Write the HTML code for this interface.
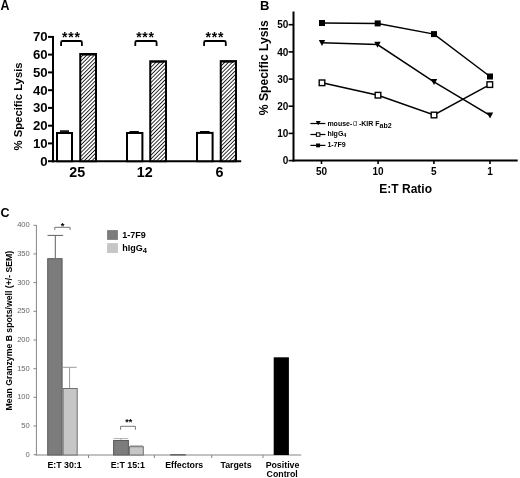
<!DOCTYPE html>
<html><head><meta charset="utf-8"><style>
html,body{margin:0;padding:0;background:#fff;}
svg{display:block;filter:grayscale(1);}
text{font-family:"Liberation Sans", sans-serif;}
</style></head><body>
<svg width="520" height="478" viewBox="0 0 520 478">
<defs>
<pattern id="hatch" patternUnits="userSpaceOnUse" width="2.7" height="2.7" patternTransform="rotate(45)">
<rect width="2.7" height="2.7" fill="#fff"/>
<rect width="0.8" height="2.7" fill="#000"/>
</pattern>
</defs>
<rect width="520" height="478" fill="#fff"/>
<text transform="translate(0.5 9.5) scale(0.9 1)" font-size="13.8" font-weight="bold">A</text>
<line x1="53" y1="36" x2="53" y2="162.2" stroke="#000" stroke-width="2"/>
<line x1="52" y1="161.2" x2="241.2" y2="161.2" stroke="#000" stroke-width="2"/>
<line x1="48" y1="161.2" x2="53" y2="161.2" stroke="#000" stroke-width="2"/>
<text x="47.6" y="165.6" font-size="13.2" font-weight="bold" text-anchor="end">0</text>
<line x1="48" y1="143.4" x2="53" y2="143.4" stroke="#000" stroke-width="2"/>
<text x="47.6" y="147.8" font-size="13.2" font-weight="bold" text-anchor="end">10</text>
<line x1="48" y1="125.7" x2="53" y2="125.7" stroke="#000" stroke-width="2"/>
<text x="47.6" y="130.1" font-size="13.2" font-weight="bold" text-anchor="end">20</text>
<line x1="48" y1="107.9" x2="53" y2="107.9" stroke="#000" stroke-width="2"/>
<text x="47.6" y="112.3" font-size="13.2" font-weight="bold" text-anchor="end">30</text>
<line x1="48" y1="90.2" x2="53" y2="90.2" stroke="#000" stroke-width="2"/>
<text x="47.6" y="94.6" font-size="13.2" font-weight="bold" text-anchor="end">40</text>
<line x1="48" y1="72.4" x2="53" y2="72.4" stroke="#000" stroke-width="2"/>
<text x="47.6" y="76.8" font-size="13.2" font-weight="bold" text-anchor="end">50</text>
<line x1="48" y1="54.6" x2="53" y2="54.6" stroke="#000" stroke-width="2"/>
<text x="47.6" y="59.0" font-size="13.2" font-weight="bold" text-anchor="end">60</text>
<line x1="48" y1="36.9" x2="53" y2="36.9" stroke="#000" stroke-width="2"/>
<text x="47.6" y="41.3" font-size="13.2" font-weight="bold" text-anchor="end">70</text>
<rect x="57.00" y="133.00" width="15.00" height="28.20" fill="#fff" stroke="#000" stroke-width="2"/>
<line x1="60.0" y1="131.1" x2="69.0" y2="131.1" stroke="#000" stroke-width="1.6"/>
<rect x="127.00" y="133.00" width="15.40" height="28.20" fill="#fff" stroke="#000" stroke-width="2"/>
<line x1="129.5" y1="131.8" x2="138.8" y2="131.8" stroke="#000" stroke-width="1.6"/>
<rect x="197.00" y="132.90" width="15.60" height="28.30" fill="#fff" stroke="#000" stroke-width="2"/>
<line x1="200.0" y1="131.8" x2="209.5" y2="131.8" stroke="#000" stroke-width="1.6"/>
<rect x="80.25" y="54.00" width="15.75" height="107.20" fill="url(#hatch)" stroke="#000" stroke-width="2"/>
<line x1="81.75" y1="55.30" x2="94.50" y2="55.30" stroke="#000" stroke-width="0.7"/>
<rect x="150.25" y="61.25" width="15.75" height="99.95" fill="url(#hatch)" stroke="#000" stroke-width="2"/>
<line x1="151.75" y1="62.55" x2="164.50" y2="62.55" stroke="#000" stroke-width="0.7"/>
<rect x="220.75" y="61.10" width="15.25" height="100.10" fill="url(#hatch)" stroke="#000" stroke-width="2"/>
<line x1="222.25" y1="62.40" x2="234.50" y2="62.40" stroke="#000" stroke-width="0.7"/>
<path d="M61.1 46 V42.5 Q61.1 41 62.6 41 H80.4 Q81.9 41 81.9 42.5 V46" fill="none" stroke="#000" stroke-width="1.8"/>
<path d="M135.3 46 V42.5 Q135.3 41 136.8 41 H155.1 Q156.6 41 156.6 42.5 V46" fill="none" stroke="#000" stroke-width="1.8"/>
<path d="M204.1 46 V42.5 Q204.1 41 205.6 41 H224.3 Q225.8 41 225.8 42.5 V46" fill="none" stroke="#000" stroke-width="1.8"/>
<text x="71.30000000000001" y="42.3" font-size="14" font-weight="bold" letter-spacing="0.8" text-anchor="middle">***</text>
<text x="145.5" y="42.3" font-size="14" font-weight="bold" letter-spacing="0.8" text-anchor="middle">***</text>
<text x="214.8" y="42.3" font-size="14" font-weight="bold" letter-spacing="0.8" text-anchor="middle">***</text>
<text x="77.3" y="177.4" font-size="14.3" font-weight="bold" text-anchor="middle">25</text>
<text x="144.8" y="177.4" font-size="14.3" font-weight="bold" text-anchor="middle">12</text>
<text x="219.6" y="177.4" font-size="14.3" font-weight="bold" text-anchor="middle">6</text>
<text transform="translate(22.2 106.45) rotate(-90)" font-size="11.3" font-weight="bold" text-anchor="middle">% Specific Lysis</text>
<text x="260" y="9.9" font-size="13" font-weight="bold">B</text>
<line x1="293.5" y1="11.5" x2="293.5" y2="161.6" stroke="#000" stroke-width="2"/>
<line x1="292.5" y1="160.6" x2="517.7" y2="160.6" stroke="#000" stroke-width="2"/>
<line x1="288.6" y1="160.6" x2="293.5" y2="160.6" stroke="#000" stroke-width="1.6"/>
<text x="288.3" y="164.2" font-size="10" font-weight="bold" text-anchor="end">0</text>
<line x1="288.6" y1="133.4" x2="293.5" y2="133.4" stroke="#000" stroke-width="1.6"/>
<text x="288.3" y="137.0" font-size="10" font-weight="bold" text-anchor="end">10</text>
<line x1="288.6" y1="106.2" x2="293.5" y2="106.2" stroke="#000" stroke-width="1.6"/>
<text x="288.3" y="109.8" font-size="10" font-weight="bold" text-anchor="end">20</text>
<line x1="288.6" y1="79.1" x2="293.5" y2="79.1" stroke="#000" stroke-width="1.6"/>
<text x="288.3" y="82.7" font-size="10" font-weight="bold" text-anchor="end">30</text>
<line x1="288.6" y1="51.9" x2="293.5" y2="51.9" stroke="#000" stroke-width="1.6"/>
<text x="288.3" y="55.5" font-size="10" font-weight="bold" text-anchor="end">40</text>
<line x1="288.6" y1="24.7" x2="293.5" y2="24.7" stroke="#000" stroke-width="1.6"/>
<text x="288.3" y="28.3" font-size="10" font-weight="bold" text-anchor="end">50</text>
<line x1="321.5" y1="160.6" x2="321.5" y2="164" stroke="#000" stroke-width="1.6"/>
<text x="321.5" y="175.4" font-size="10" font-weight="bold" text-anchor="middle">50</text>
<line x1="378.1" y1="160.6" x2="378.1" y2="164" stroke="#000" stroke-width="1.6"/>
<text x="378.1" y="175.4" font-size="10" font-weight="bold" text-anchor="middle">10</text>
<line x1="433.9" y1="160.6" x2="433.9" y2="164" stroke="#000" stroke-width="1.6"/>
<text x="433.9" y="175.4" font-size="10" font-weight="bold" text-anchor="middle">5</text>
<line x1="490" y1="160.6" x2="490" y2="164" stroke="#000" stroke-width="1.6"/>
<text x="490" y="175.4" font-size="10" font-weight="bold" text-anchor="middle">1</text>
<text x="405.7" y="193" font-size="12" font-weight="bold" text-anchor="middle">E:T Ratio</text>
<text transform="translate(267.7 67.75) rotate(-90)" font-size="12.2" font-weight="bold" text-anchor="middle">% Specific Lysis</text>
<polyline points="322,23 377.7,23.4 434,34.1 490,76.5" fill="none" stroke="#000" stroke-width="1.5"/>
<polyline points="322,42.8 377.5,44.6 434,81.9 490,115.3" fill="none" stroke="#000" stroke-width="1.5"/>
<polyline points="322,82.8 378,95.2 434,115 489.8,84.6" fill="none" stroke="#000" stroke-width="1.5"/>
<rect x="319.0" y="20.0" width="6" height="6" fill="#000"/>
<rect x="374.7" y="20.4" width="6" height="6" fill="#000"/>
<rect x="431.0" y="31.1" width="6" height="6" fill="#000"/>
<rect x="487.0" y="73.5" width="6" height="6" fill="#000"/>
<rect x="319.2" y="80.0" width="5.6" height="5.6" fill="#fff" stroke="#000" stroke-width="1.4"/>
<rect x="375.2" y="92.4" width="5.6" height="5.6" fill="#fff" stroke="#000" stroke-width="1.4"/>
<rect x="431.2" y="112.2" width="5.6" height="5.6" fill="#fff" stroke="#000" stroke-width="1.4"/>
<rect x="487.0" y="81.8" width="5.6" height="5.6" fill="#fff" stroke="#000" stroke-width="1.4"/>
<path d="M318.8 39.89999999999999 H325.2 L322 46.0 Z" fill="#000"/>
<path d="M374.3 41.699999999999996 H380.7 L377.5 47.800000000000004 Z" fill="#000"/>
<path d="M430.8 79.0 H437.2 L434 85.10000000000001 Z" fill="#000"/>
<path d="M486.8 112.39999999999999 H493.2 L490 118.5 Z" fill="#000"/>
<line x1="310.4" y1="123.5" x2="325.4" y2="123.5" stroke="#000" stroke-width="1.2"/>
<path d="M315.7 121.1 H320.7 L318.2 125.3 Z" fill="#000"/>
<line x1="310.4" y1="134.5" x2="325.4" y2="134.5" stroke="#000" stroke-width="1.2"/>
<rect x="316.4" y="132.8" width="3.5" height="3.5" fill="#fff" stroke="#000" stroke-width="1"/>
<line x1="310.4" y1="145.4" x2="325.4" y2="145.4" stroke="#000" stroke-width="1.2"/>
<rect x="316.1" y="143.5" width="4" height="3.8" fill="#000"/>
<text x="327.4" y="125.8" font-size="7" font-weight="bold">mouse-</text>
<text x="352.7" y="125.8" font-size="8.2" fill="#555">α</text>
<text x="358.9" y="125.8" font-size="7" font-weight="bold">-KIR F</text>
<text x="379.5" y="127.6" font-size="7" font-weight="bold">ab2</text>
<text x="327.4" y="136" font-size="7" font-weight="bold">hIgG</text>
<text x="343.2" y="137.3" font-size="5.6" font-weight="bold">4</text>
<text x="327.4" y="146.8" font-size="7" font-weight="bold">1-7F9</text>
<text x="0.4" y="216.7" font-size="12.5" font-weight="bold">C</text>
<line x1="36.4" y1="225" x2="36.4" y2="455.5" stroke="#858585" stroke-width="1"/>
<line x1="36" y1="455" x2="301.3" y2="455" stroke="#858585" stroke-width="1"/>
<line x1="33.5" y1="454.7" x2="36.4" y2="454.7" stroke="#858585" stroke-width="1"/>
<text x="29.8" y="456.6" font-size="7.6" fill="#666" text-anchor="end">0</text>
<line x1="33.5" y1="426.0" x2="36.4" y2="426.0" stroke="#858585" stroke-width="1"/>
<text x="29.8" y="427.9" font-size="7.6" fill="#666" text-anchor="end">50</text>
<line x1="33.5" y1="397.3" x2="36.4" y2="397.3" stroke="#858585" stroke-width="1"/>
<text x="29.8" y="399.2" font-size="7.6" fill="#666" text-anchor="end">100</text>
<line x1="33.5" y1="368.7" x2="36.4" y2="368.7" stroke="#858585" stroke-width="1"/>
<text x="29.8" y="370.6" font-size="7.6" fill="#666" text-anchor="end">150</text>
<line x1="33.5" y1="340.0" x2="36.4" y2="340.0" stroke="#858585" stroke-width="1"/>
<text x="29.8" y="341.9" font-size="7.6" fill="#666" text-anchor="end">200</text>
<line x1="33.5" y1="311.3" x2="36.4" y2="311.3" stroke="#858585" stroke-width="1"/>
<text x="29.8" y="313.2" font-size="7.6" fill="#666" text-anchor="end">250</text>
<line x1="33.5" y1="282.6" x2="36.4" y2="282.6" stroke="#858585" stroke-width="1"/>
<text x="29.8" y="284.5" font-size="7.6" fill="#666" text-anchor="end">300</text>
<line x1="33.5" y1="253.9" x2="36.4" y2="253.9" stroke="#858585" stroke-width="1"/>
<text x="29.8" y="255.8" font-size="7.6" fill="#666" text-anchor="end">350</text>
<line x1="33.5" y1="225.3" x2="36.4" y2="225.3" stroke="#858585" stroke-width="1"/>
<text x="29.8" y="227.2" font-size="7.6" fill="#666" text-anchor="end">400</text>
<line x1="88.5" y1="455" x2="88.5" y2="458" stroke="#858585" stroke-width="1"/>
<line x1="154.4" y1="455" x2="154.4" y2="458" stroke="#858585" stroke-width="1"/>
<line x1="211.7" y1="455" x2="211.7" y2="458" stroke="#858585" stroke-width="1"/>
<line x1="263" y1="455" x2="263" y2="458" stroke="#858585" stroke-width="1"/>
<rect x="47.7" y="258.7" width="14.399999999999999" height="196.3" fill="#7c7c7c" stroke="#5a5a5a" stroke-width="1"/>
<rect x="63.1" y="388.5" width="14.100000000000001" height="66.5" fill="#c6c6c6" stroke="#6e6e6e" stroke-width="1"/>
<rect x="113.6" y="440.5" width="14.800000000000011" height="14.5" fill="#7c7c7c" stroke="#5a5a5a" stroke-width="1"/>
<rect x="129.4" y="446.7" width="13.900000000000006" height="8.300000000000011" fill="#c6c6c6" stroke="#6e6e6e" stroke-width="1"/>
<rect x="170.2" y="454" width="15.6" height="1.6" fill="#6a6a6a"/>
<rect x="273.7" y="357.3" width="15.2" height="97.7" fill="#000"/>
<path d="M55.3 258 V235.4 M47.5 235.4 H63.2" stroke="#606060" stroke-width="1" fill="none"/>
<path d="M69.6 388 V367.3 M62.6 367.3 H76.7" stroke="#9a9a9a" stroke-width="1" fill="none"/>
<path d="M121 440 V438.6 M113.5 438.6 H128.3" stroke="#9a9a9a" stroke-width="0.8" fill="none"/>
<path d="M130 445.6 H143" stroke="#8a8a8a" stroke-width="0.6" fill="none"/>
<path d="M54.8 230 V227.3 H70.1 V230" stroke="#555" stroke-width="0.8" fill="none"/>
<text x="62.5" y="229.2" font-size="9.5" font-weight="bold" text-anchor="middle">*</text>
<path d="M120.6 429.8 V426.3 H135.4 V429.8" stroke="#555" stroke-width="0.8" fill="none"/>
<text x="128.8" y="425.4" font-size="9" font-weight="bold" text-anchor="middle">**</text>
<rect x="107.1" y="230.1" width="10.8" height="9.8" fill="#7c7c7c"/>
<rect x="107.1" y="243.1" width="10.8" height="9.9" fill="#c6c6c6"/>
<text x="122.2" y="238.4" font-size="9" font-weight="bold">1-7F9</text>
<text x="122.2" y="251" font-size="9" font-weight="bold">hIgG<tspan font-size="7.5" dy="2">4</tspan></text>
<text x="64.5" y="467.9" font-size="8.8" font-weight="bold" text-anchor="middle">E:T 30:1</text>
<text x="127.8" y="467.9" font-size="8.8" font-weight="bold" text-anchor="middle">E:T 15:1</text>
<text x="184.2" y="467.9" font-size="8.8" font-weight="bold" text-anchor="middle">Effectors</text>
<text x="236" y="467.9" font-size="8.8" font-weight="bold" text-anchor="middle">Targets</text>
<text x="282.5" y="467.9" font-size="8.8" font-weight="bold" text-anchor="middle">Positive</text>
<text x="282.2" y="477.1" font-size="8.8" font-weight="bold" text-anchor="middle">Control</text>
<text transform="translate(11.9 330.6) rotate(-90)" font-size="8.7" font-weight="bold" text-anchor="middle">Mean Granzyme B spots/well (+/- SEM)</text>
</svg>
</body></html>
